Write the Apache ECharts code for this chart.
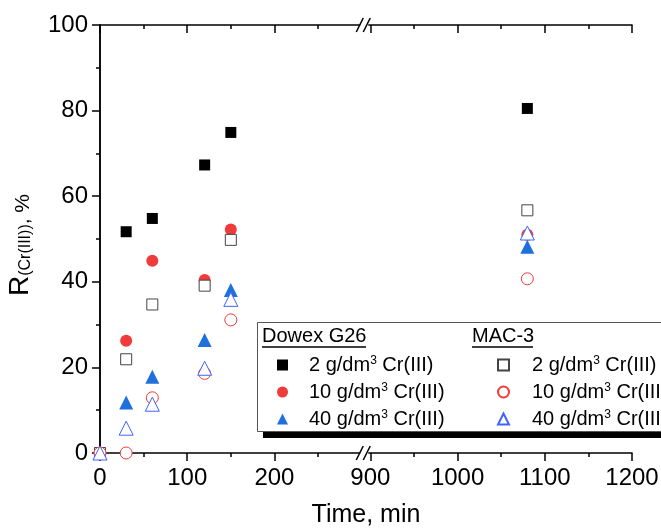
<!DOCTYPE html>
<html>
<head>
<meta charset="utf-8">
<script src="https://cdn.jsdelivr.net/npm/echarts@6/dist/echarts.min.js"></script>
<style>
html, body { margin: 0; padding: 0; background: #fff; }
#chart { width: 661px; height: 532px; }
</style>
</head>
<body>
<div id="chart"></div>
<script>
const FONT = "Liberation Sans, Arial, sans-serif";

// time, min
const times = [0, 30, 60, 120, 150, 1080];

// R(Cr(III)), %
const dowex2 = [0, 51.7, 54.8, 67.3, 74.9, 80.5];
const dowex10 = [0, 26.2, 44.9, 40.4, 52.2, 51.0];
const dowex40 = [0, 11.8, 17.8, 26.4, 38.1, 48.2];
const mac2 = [0, 21.9, 34.7, 39.1, 49.8, 56.7];
const mac10 = [0, 0, 12.9, 18.6, 31.1, 40.7];
const mac40 = [0, 5.8, 11.4, 19.8, 35.9, 51.4];

const majorTicks = [0, 100, 200, 900, 1000, 1100, 1200];
const minorTicks = [50, 150, 250, 950, 1050, 1150];

const legendLabels = {
    "Dowex 2": "2 g/dm{s|3} Cr(III)",
    "Dowex 10": "10 g/dm{s|3} Cr(III)",
    "Dowex 40": "40 g/dm{s|3} Cr(III)",
    "MAC 2": "2 g/dm{s|3} Cr(III)",
    "MAC 10": "10 g/dm{s|3} Cr(III)",
    "MAC 40": "40 g/dm{s|3} Cr(III)"
};

// broken axis: 300..900 is cut out, leaving a small gap
const BREAK_FROM = 300;
const BREAK_TO = 900;
const BREAK_GAP = 10;

function toAxis(t) {
    return t <= BREAK_FROM ? t : t - (BREAK_TO - BREAK_FROM) + BREAK_GAP;
}

function fromAxis(v) {
    return v <= BREAK_FROM + BREAK_GAP / 2 ? v : v + (BREAK_TO - BREAK_FROM) - BREAK_GAP;
}

function pairs(ys) {
    return times.map((t, i) => [toAxis(t), ys[i]]);
}

const chart = echarts.init(document.getElementById("chart"));

const lineStyle = { color: "#000", width: 1.5 };
const axisMax = toAxis(1200);

function xAxisDef(position, ticks, len, labels) {
    return {
        type: "value",
        position: position,
        min: 0,
        max: axisMax,
        axisLine: { show: len > 6, lineStyle: lineStyle },
        axisTick: {
            show: true,
            customValues: ticks.map(toAxis),
            length: len,
            inside: position === "top",
            lineStyle: lineStyle
        },
        axisLabel: labels ? {
            show: true,
            customValues: ticks.map(toAxis),
            formatter: v => String(Math.round(fromAxis(v))),
            fontSize: 24,
            fontFamily: FONT,
            color: "#000",
            margin: 13
        } : { show: false },
        splitLine: { show: false }
    };
}

function yAxisDef(position) {
    return {
        type: "value",
        position: position,
        min: 0,
        max: 100,
        interval: 20,
        axisLine: { show: true, lineStyle: lineStyle },
        axisTick: { show: true, length: 8, inside: position === "right", lineStyle: lineStyle },
        minorTick: { show: true, splitNumber: 2, length: 4, lineStyle: lineStyle },
        axisLabel: position === "left" ? {
            fontSize: 24,
            fontFamily: FONT,
            color: "#000",
            margin: 12
        } : { show: false },
        splitLine: { show: false },
        minorSplitLine: { show: false }
    };
}

const bottomMajor = xAxisDef("bottom", majorTicks, 8, true);
bottomMajor.name = "Time, min";
bottomMajor.nameLocation = "middle";
bottomMajor.nameGap = 50;
bottomMajor.nameTextStyle = { fontSize: 25, fontFamily: FONT, color: "#000" };

const leftAxis = yAxisDef("left");
leftAxis.name = "{r|R}{s|(Cr(III))}{p|, %}";
leftAxis.nameLocation = "middle";
leftAxis.nameRotate = 90;
leftAxis.nameGap = 66;
leftAxis.nameTextStyle = {
    fontFamily: FONT,
    color: "#000",
    padding: [0, 12, 0, 0],
    rich: {
        r: { fontSize: 28, fontFamily: FONT, color: "#000", lineHeight: 30, verticalAlign: "bottom" },
        s: { fontSize: 16, fontFamily: FONT, color: "#000", lineHeight: 20, verticalAlign: "bottom", padding: [6, 0, 0, 0] },
        p: { fontSize: 21, fontFamily: FONT, color: "#000", lineHeight: 30, verticalAlign: "bottom" }
    }
};

function series(name, data, symbol, size, fill, stroke) {
    return {
        name: name,
        type: "scatter",
        data: pairs(data),
        symbol: symbol,
        symbolSize: size,
        clip: false,
        itemStyle: {
            color: fill,
            borderColor: stroke,
            borderWidth: stroke ? 1 : 0,
            opacity: 1
        }
    };
}

function legendDef(names, left, gap) {
    return {
        data: names,
        orient: "vertical",
        left: left,
        top: 355,
        padding: 0,
        itemWidth: 11,
        itemHeight: 11,
        itemGap: 7,
        selectedMode: false,
        z: 10,
        formatter: name => legendLabels[name],
        textStyle: {
            fontSize: 20,
            fontFamily: FONT,
            color: "#000",
            lineHeight: 20,
            padding: [0, 0, 0, gap],
            rich: {
                s: { fontSize: 12, fontFamily: FONT, color: "#000", verticalAlign: "top", lineHeight: 14 }
            }
        }
    };
}

chart.setOption({
    animation: false,
    backgroundColor: "#fff",
    grid: { left: 100, right: 29, top: 25, bottom: 79, outerBoundsMode: "none", containLabel: false },
    xAxis: [
        bottomMajor,
        xAxisDef("bottom", minorTicks, 4, false),
        xAxisDef("top", majorTicks, 8, false),
        xAxisDef("top", minorTicks, 4, false)
    ],
    yAxis: [leftAxis, yAxisDef("right")],
    legend: [
        legendDef(["Dowex 2", "Dowex 10", "Dowex 40"], 277, 16),
        legendDef(["MAC 2", "MAC 10", "MAC 40"], 497, 18)
    ],
    series: [
        series("Dowex 2", dowex2, "rect", 11, "#000"),
        series("Dowex 10", dowex10, "circle", 12, "#ef3b3b"),
        series("Dowex 40", dowex40, "triangle", 14, "#1f6fdd"),
        series("MAC 2", mac2, "rect", 11, "#fff", "#444"),
        series("MAC 10", mac10, "circle", 12, "#fff", "#ef3b3b"),
        series("MAC 40", mac40, "triangle", 14, "#fff", "#4062ff")
    ]
});

// decorations: legend frame with shadow, column titles and axis break marks
const brX = chart.convertToPixel({ xAxisIndex: 0 }, BREAK_FROM + BREAK_GAP / 2 - 2);
const yBottom = chart.convertToPixel({ yAxisIndex: 0 }, 0);
const yTop = chart.convertToPixel({ yAxisIndex: 0 }, 100);

function breakMark(cx, cy) {
    return [
        { type: "rect", z: 5, shape: { x: cx - 4, y: cy - 2, width: 8, height: 4 }, style: { fill: "#fff" } },
        { type: "line", z: 5, shape: { x1: cx - 8, y1: cy + 7, x2: cx - 1, y2: cy - 7 }, style: { stroke: "#000", lineWidth: 1.5 } },
        { type: "line", z: 5, shape: { x1: cx - 1, y1: cy + 7, x2: cx + 6, y2: cy - 7 }, style: { stroke: "#000", lineWidth: 1.5 } }
    ];
}

chart.setOption({
    graphic: [
        { type: "rect", z: 6, shape: { x: 263, y: 328, width: 420, height: 110 }, style: { fill: "#000" } },
        { type: "rect", z: 6, shape: { x: 257.5, y: 322.5, width: 420, height: 109 }, style: { fill: "#fff", stroke: "#555", lineWidth: 1 } },
        { type: "text", z: 7, left: 262, top: 326, style: { text: "Dowex G26", fontSize: 20, fontFamily: FONT, fill: "#000" } },
        { type: "line", z: 7, shape: { x1: 262, y1: 347, x2: 366, y2: 347 }, style: { stroke: "#000", lineWidth: 1.5 } },
        { type: "text", z: 7, left: 472, top: 326, style: { text: "MAC-3", fontSize: 20, fontFamily: FONT, fill: "#000" } },
        { type: "line", z: 7, shape: { x1: 472, y1: 347, x2: 533, y2: 347 }, style: { stroke: "#000", lineWidth: 1.5 } }
    ].concat(breakMark(brX, yBottom), breakMark(brX, yTop))
});
</script>
</body>
</html>
